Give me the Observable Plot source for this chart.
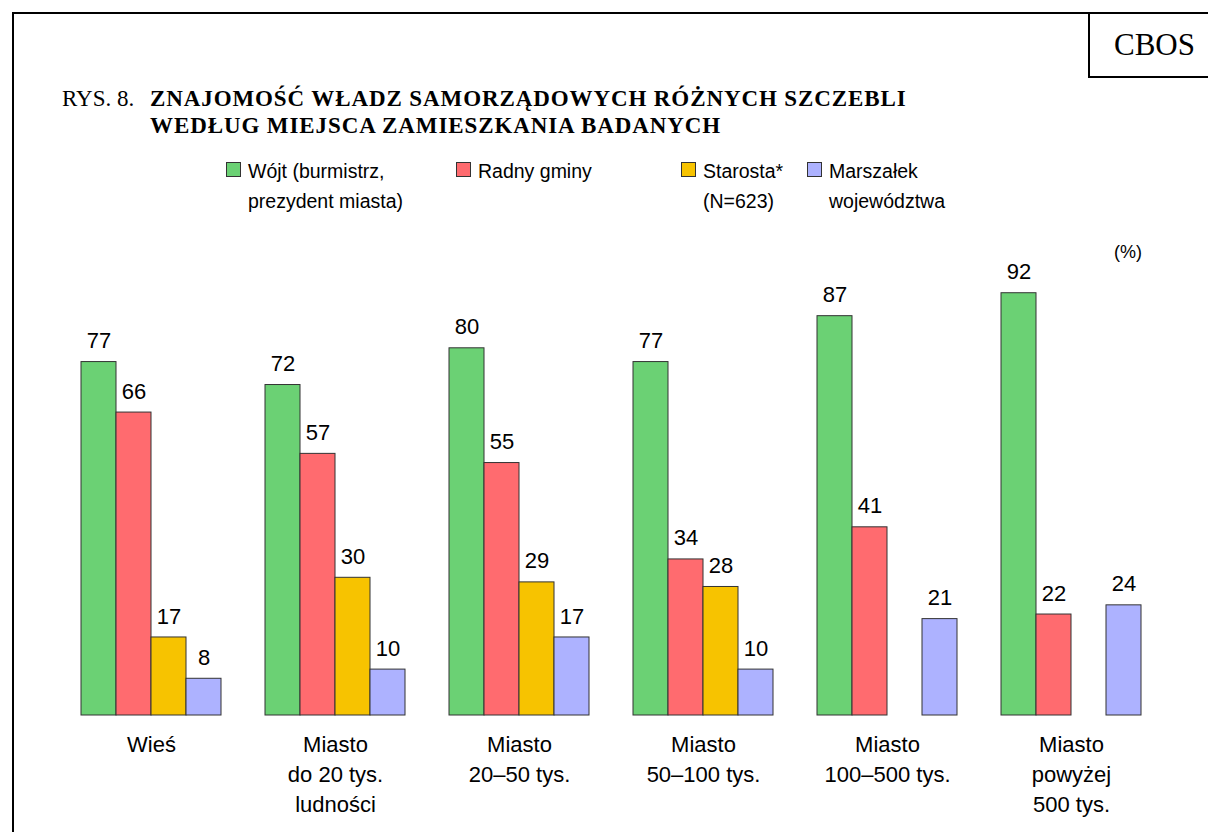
<!DOCTYPE html>
<html><head><meta charset="utf-8">
<script src="https://cdn.jsdelivr.net/npm/d3@7"></script>
<script src="https://cdn.jsdelivr.net/npm/@observablehq/plot@0.6"></script>
<style>
html,body{margin:0;padding:0;background:#fff;}
#page{position:relative;width:1208px;height:832px;overflow:hidden;font-family:"Liberation Sans",Arial,sans-serif;color:#000;}
#frameTop{position:absolute;left:12px;top:12px;width:1196px;height:2px;background:#000;}
#frameLeft{position:absolute;left:12px;top:12px;width:2px;height:820px;background:#000;}
#cbos{position:absolute;left:1088px;top:12px;width:120px;height:66px;border-left:2px solid #000;border-bottom:2px solid #000;box-sizing:border-box;font-family:"Liberation Serif","Times New Roman",serif;font-size:31px;line-height:66px;padding-left:24px;}
.title{position:absolute;font-family:"Liberation Serif","Times New Roman",serif;font-size:23px;line-height:27px;}
#rys{left:62px;top:85px;}
#ttl{left:150px;top:85px;font-weight:bold;letter-spacing:0.9px;}
.leg{position:absolute;top:156px;font-size:19.5px;line-height:30px;}
.sw{position:absolute;top:162px;width:13px;height:13px;border:1px solid #333;}
#pct{position:absolute;left:1114px;top:242px;font-size:18px;}
#chart{position:absolute;left:0;top:240px;}
</style></head>
<body>
<div id="page">
  <div id="frameTop"></div><div id="frameLeft"></div>
  <div id="cbos">CBOS</div>
  <div class="title" id="rys">RYS. 8.</div>
  <div class="title" id="ttl">ZNAJOMOŚĆ WŁADZ SAMORZĄDOWYCH RÓŻNYCH SZCZEBLI<br>WEDŁUG MIEJSCA ZAMIESZKANIA BADANYCH</div>
  <div id="legend"></div>
  <div id="pct">(%)</div>
  <div id="chart"></div>
</div>
<script>
const categories = ["Wieś", "Miasto\ndo 20 tys.\nludności", "Miasto\n20–50 tys.", "Miasto\n50–100 tys.", "Miasto\n100–500 tys.", "Miasto\npowyżej\n500 tys."];
const series = ["Wójt (burmistrz,\nprezydent miasta)", "Radny gminy", "Starosta*\n(N=623)", "Marszałek\nwojewództwa"];
const colors = ["#6bd174", "#ff6b6f", "#f7c300", "#adb2ff"];
const wojt = [77, 72, 80, 77, 87, 92];
const radny = [66, 57, 55, 34, 41, 22];
const starosta = [17, 30, 29, 28, null, null];
const marszalek = [8, 10, 17, 10, 21, 24];

const seriesValues = [wojt, radny, starosta, marszalek];
const data = [];
categories.forEach((c, i) => {
  series.forEach((s, j) => {
    const v = seriesValues[j][i];
    if (v != null) data.push({group: c, series: s, value: v});
  });
});

// legend
const legendX = [226, 456, 681, 807];
const legend = document.getElementById("legend");
series.forEach((s, j) => {
  const sw = document.createElement("div");
  sw.className = "sw";
  sw.style.left = legendX[j] + "px";
  sw.style.background = colors[j];
  legend.appendChild(sw);
  const t = document.createElement("div");
  t.className = "leg";
  t.style.left = (legendX[j] + 22) + "px";
  t.innerHTML = s.replace("\n", "<br>");
  legend.appendChild(t);
});

const chart = Plot.plot({
  width: 1208,
  height: 592,
  marginLeft: 78,
  marginRight: 65,
  marginTop: 16,
  marginBottom: 117,
  style: {fontFamily: "'Liberation Sans', Arial, sans-serif", background: "transparent"},
  fx: {domain: categories, range: [78, 1143], paddingInner: 0.24, paddingOuter: 0, label: null},
  x: {domain: series, padding: 0, axis: null},
  y: {domain: [0, 100], axis: null},
  color: {domain: series, range: colors},
  marks: [
    Plot.barY(data, {fx: "group", x: "series", y: "value", fill: "series", stroke: "#333", strokeWidth: 1}),
    Plot.text(data, {fx: "group", x: "series", y: "value", text: d => String(d.value), dy: -21, fontSize: 22, fill: "#000"}),
    Plot.axisFx({anchor: "bottom", tickSize: 0, tickPadding: 15, fontSize: 22, lineHeight: 1.36, label: null})
  ]
});
document.getElementById("chart").appendChild(chart);
</script>
</body></html>
